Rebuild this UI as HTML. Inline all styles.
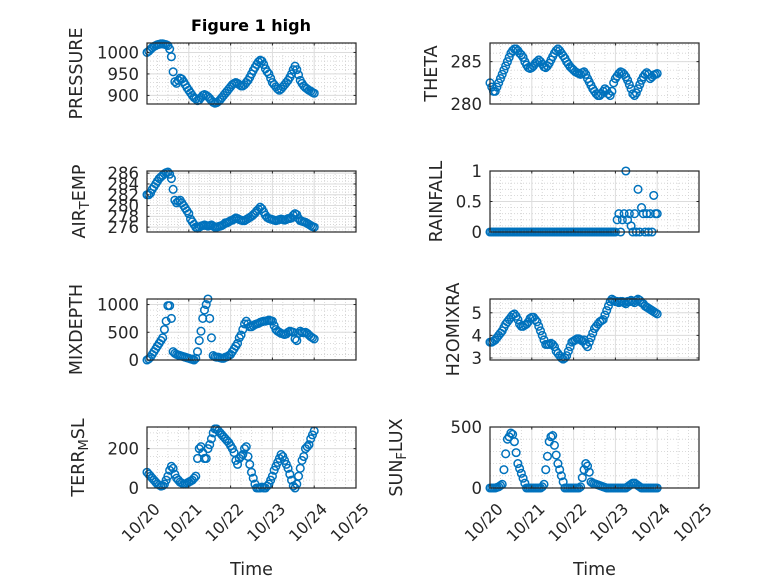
<!DOCTYPE html>
<html><head><meta charset="utf-8"><style>
html,body{margin:0;padding:0;background:#fff;}
svg{display:block;font-family:"DejaVu Sans","Liberation Sans",sans-serif;}
</style></head><body>
<svg id="fig" width="778" height="583" viewBox="0 0 778 583" xmlns="http://www.w3.org/2000/svg">
<rect width="778" height="583" fill="#fff"/>
<text x="251" y="31" font-size="16" font-weight="bold" text-anchor="middle" fill="#000">Figure 1 high</text>
</svg>
<script>
const xTickLabels = ["10/20","10/21","10/22","10/23","10/24","10/25"];
const pressure = [1000,1003,1007,1011,1014,1016,1018,1019,1020,1020,1019,1018,
1016,1008,990,955,932,928,935,940,938,932,925,918,
912,906,900,895,892,888,890,895,900,902,900,897,
893,888,884,882,883,886,890,895,900,905,910,915,
920,925,928,930,928,925,922,922,925,930,935,942,
950,958,965,972,978,982,980,972,962,955,950,940,
930,925,920,915,912,915,920,925,930,935,942,950,
960,968,960,948,935,928,922,918,915,912,910,907,905];
const airTemp = [282,282,282.3,283,283.5,284,284.5,285,285.3,285.6,285.9,286.1,
286.2,285.8,285,283,281,280.5,280.8,281,280.5,280,279.5,279,
278.5,277.5,277,276.5,276,275.8,276,276.2,276.3,276.4,276.3,276.2,
276.3,276.4,276.2,276,276,276.1,276.2,276.3,276.5,276.8,276.8,277,
277.2,277.3,277.5,277.7,277.6,277.4,277.3,277.2,277.2,277.4,277.6,277.8,
278,278.3,278.6,279,279.3,279.7,279.4,278.8,278.2,277.8,277.6,277.5,
277.4,277.3,277.2,277.3,277.4,277.5,277.4,277.3,277.4,277.6,277.6,277.7,
278.2,278.5,278.3,277.6,277.2,277.1,277,276.9,276.7,276.5,276.3,276.1,276];
const theta = [282.5,282,281.5,281.5,282,282.5,283,283.5,284,284.5,285,285.5,
286,286.3,286.5,286.5,286.3,286,285.8,285.5,285,284.6,284.3,284.2,
284.3,284.5,284.8,285,285.2,285,284.7,284.4,284.3,284.5,284.8,285.2,
285.6,286,286.3,286.5,286.3,286,285.7,285.4,285,284.7,284.4,284.2,
284,283.8,283.7,283.6,283.5,283.7,283.8,283.5,283,282.6,282.2,281.8,
281.5,281.2,281,281,281.2,281.5,281.8,281.6,281.2,281,281.5,282.5,
283,283.3,283.6,283.8,283.7,283.5,283.2,282.8,282.3,281.8,281.2,281,
281.3,281.8,282.3,282.8,283.2,283.5,283.7,283.5,283,283.2,283.4,283.5,283.6];
const rainfall = [0,0,0,0,0,0,0,0,0,0,0,0,
0,0,0,0,0,0,0,0,0,0,0,0,
0,0,0,0,0,0,0,0,0,0,0,0,
0,0,0,0,0,0,0,0,0,0,0,0,
0,0,0,0,0,0,0,0,0,0,0,0,
0,0,0,0,0,0,0,0,0,0,0,0,
0,0.2,0.3,0,0.2,0.3,1.0,0.2,0.3,0.1,0,0.3,
0,0.7,0,0.4,0.3,0,0.3,0,0.3,0,0.6,0.3,0.3];
const mixDepth = [0,20,50,100,150,200,250,300,350,400,550,700,
980,980,750,150,120,100,90,80,70,60,50,40,
30,20,10,0,30,150,350,520,750,900,1000,1100,
750,400,80,60,50,50,40,30,30,50,60,80,
100,150,200,250,300,400,450,550,650,700,650,600,
600,620,640,650,660,680,690,700,700,710,720,710,
700,620,550,520,500,480,470,460,470,500,520,510,
500,380,350,480,520,500,490,500,480,450,420,400,380];
const h2oMix = [3.7,3.7,3.75,3.8,3.9,4.0,4.1,4.2,4.35,4.5,4.6,4.7,
4.8,4.9,4.95,4.85,4.7,4.5,4.4,4.4,4.45,4.5,4.6,4.75,
4.8,4.8,4.7,4.6,4.4,4.2,4.0,3.8,3.6,3.6,3.6,3.65,
3.6,3.5,3.3,3.2,3.1,3.0,2.95,3.0,3.1,3.3,3.5,3.7,
3.75,3.8,3.85,3.85,3.8,3.75,3.8,3.6,3.5,3.7,3.9,4.1,
4.3,4.4,4.5,4.6,4.65,4.7,4.9,5.1,5.3,5.5,5.6,5.55,
5.5,5.5,5.45,5.5,5.5,5.45,5.4,5.5,5.5,5.55,5.5,5.45,
5.55,5.6,5.55,5.45,5.4,5.3,5.25,5.2,5.15,5.1,5.05,5.0,4.95];
const terrMsl = [80,70,60,50,40,30,20,15,10,12,20,40,
60,90,110,100,70,50,40,30,25,20,20,25,
30,35,40,50,60,150,200,210,180,150,150,200,
220,250,280,300,300,290,280,270,260,250,240,230,
215,200,180,140,120,150,160,170,200,210,160,120,
80,50,20,0,0,0,5,0,0,10,20,40,
60,90,110,130,150,170,160,140,120,100,70,40,
10,0,20,60,100,140,160,200,210,220,250,270,290];
const sunFlux = [0,0,0,0,5,10,20,30,150,280,400,420,
450,440,380,290,200,160,120,80,40,0,0,0,
0,0,0,0,0,0,10,30,150,260,380,420,
430,350,270,200,150,100,50,0,0,0,0,0,
0,0,0,0,10,85,150,200,180,130,50,40,
35,30,25,20,15,10,5,0,0,0,0,0,
0,0,0,0,0,0,0,10,20,30,40,40,
30,20,10,0,0,0,0,0,0,0,0,0,0];
const pressureTicks=[900,950,1000], airTicks=[276,278,280,282,284,286], thetaTicks=[280,285],
rainTicks=[0,0.5,1], mixTicks=[0,500,1000], h2oTicks=[3,4,5], terrTicks=[0,200], sunTicks=[0,500];

const NS="http://www.w3.org/2000/svg";
const svg=document.getElementById('fig');
function mk(tag,attrs,parent){const e=document.createElementNS(NS,tag);for(const k in attrs)e.setAttribute(k,attrs[k]);(parent||svg).appendChild(e);return e;}

const panels=[
 {key:'pressure',data:pressure,ticks:pressureTicks,ylim:[880,1022],minor:10,x0:147,x1:356,y0:43,y1:104,label:'PRESSURE',lx:77,bottom:false},
 {key:'theta',data:theta,ticks:thetaTicks,ylim:[280,287.2],minor:1,x0:490,x1:699,y0:43,y1:104,label:'THETA',lx:432,bottom:false},
 {key:'air-temp',data:airTemp,ticks:airTicks,ylim:[275.1,286.4],minor:0.5,x0:147,x1:356,y0:171,y1:232,label:'AIR_TEMP',lx:80,bottom:false},
 {key:'rainfall',data:rainfall,ticks:rainTicks,ylim:[0,1],minor:0.1,x0:490,x1:699,y0:171,y1:232,label:'RAINFALL',lx:437,bottom:false},
 {key:'mixdepth',data:mixDepth,ticks:mixTicks,ylim:[0,1100],minor:100,x0:147,x1:356,y0:299,y1:360,label:'MIXDEPTH',lx:77,bottom:false},
 {key:'h2omixra',data:h2oMix,ticks:h2oTicks,ylim:[2.91,5.61],minor:0.2,x0:490,x1:699,y0:299,y1:360,label:'H2OMIXRA',lx:454,bottom:false},
 {key:'terr-msl',data:terrMsl,ticks:terrTicks,ylim:[0,310],minor:40,x0:147,x1:356,y0:427,y1:488,label:'TERR_MSL',lx:79,bottom:true},
 {key:'sun-flux',data:sunFlux,ticks:sunTicks,ylim:[0,500],minor:100,x0:490,x1:699,y0:427,y1:488,label:'SUN_FLUX',lx:397,bottom:true}
];

panels.forEach(p=>{
 const g=mk('g',{});
 
 
 const xs=h=>p.x0+(h/120)*(p.x1-p.x0);
 const ys=v=>p.y1-(v-p.ylim[0])/(p.ylim[1]-p.ylim[0])*(p.y1-p.y0);
 mk('rect',{x:p.x0,y:p.y0,width:p.x1-p.x0,height:p.y1-p.y0,fill:'#fff'},g);
 for(let h=6;h<120;h+=6){ if(h%24===0)continue; mk('line',{x1:xs(h),x2:xs(h),y1:p.y0,y2:p.y1,stroke:'#cfcfcf','stroke-width':0.8,'stroke-dasharray':'1,2'},g);}
 const m0=Math.ceil(p.ylim[0]/p.minor-1e-9);
 for(let k=m0;k*p.minor<=p.ylim[1]+1e-9;k++){const v=k*p.minor;const y=ys(v);mk('line',{x1:p.x0,x2:p.x1,y1:y,y2:y,stroke:'#cfcfcf','stroke-width':0.8,'stroke-dasharray':'1,2'},g);}
 xTickLabels.forEach((t,i)=>{const x=xs(i*24);mk('line',{x1:x,x2:x,y1:p.y0,y2:p.y1,stroke:'#dcdcdc','stroke-width':1},g);});
 p.ticks.forEach(v=>{const y=ys(v);mk('line',{x1:p.x0,x2:p.x1,y1:y,y2:y,stroke:'#dcdcdc','stroke-width':1},g);});
 p.data.forEach((v,i)=>{
  const c=mk('circle',{cx:xs(i),cy:ys(v),r:3.8,fill:'none',stroke:'#0072BD','stroke-width':1.5},g);
  
  
 });
 mk('rect',{x:p.x0,y:p.y0,width:p.x1-p.x0,height:p.y1-p.y0,fill:'none',stroke:'#262626','stroke-width':1.2},g);
 xTickLabels.forEach((t,i)=>{const x=xs(i*24);
  mk('line',{x1:x,x2:x,y1:p.y1,y2:p.y1-2.5,stroke:'#262626'},g);
  mk('line',{x1:x,x2:x,y1:p.y0,y2:p.y0+2.5,stroke:'#262626'},g);
  if(p.bottom){const ax=x+14, ay=p.y1+22;
   const tx=mk('text',{x:ax,y:ay,'font-size':16,fill:'#262626','text-anchor':'end',transform:`rotate(-45 ${ax} ${ay})`},g);tx.textContent=t;
   
   }
 });
 p.ticks.forEach(v=>{const y=ys(v);
  mk('line',{x1:p.x0,x2:p.x0+2.5,y1:y,y2:y,stroke:'#262626'},g);
  mk('line',{x1:p.x1,x2:p.x1-2.5,y1:y,y2:y,stroke:'#262626'},g);
  const tx=mk('text',{x:p.x0-8,y:y+6,'font-size':16.5,fill:'#262626','text-anchor':'end'},g);tx.textContent=String(v);
  
  
 });
 const cy=(p.y0+p.y1)/2;
 const lab=mk('text',{x:p.lx,y:cy,'font-size':17.5,fill:'#262626','text-anchor':'middle','dominant-baseline':'central',transform:`rotate(-90 ${p.lx} ${cy})`},g);
 
 
 const parts=p.label.split('_');
 if(parts.length===2){
  const a=mk('tspan',{},lab);a.textContent=parts[0];
  const b=mk('tspan',{'font-size':13,dy:5},lab);b.textContent=parts[1][0];
  const c=mk('tspan',{dy:-5},lab);c.textContent=parts[1].slice(1);
 } else lab.textContent=p.label;
 if(p.bottom){
  const t=mk('text',{x:(p.x0+p.x1)/2,y:575,'font-size':17.5,fill:'#262626','text-anchor':'middle'},g);t.textContent='Time';
  
  
 }
});
</script>
</body></html>
